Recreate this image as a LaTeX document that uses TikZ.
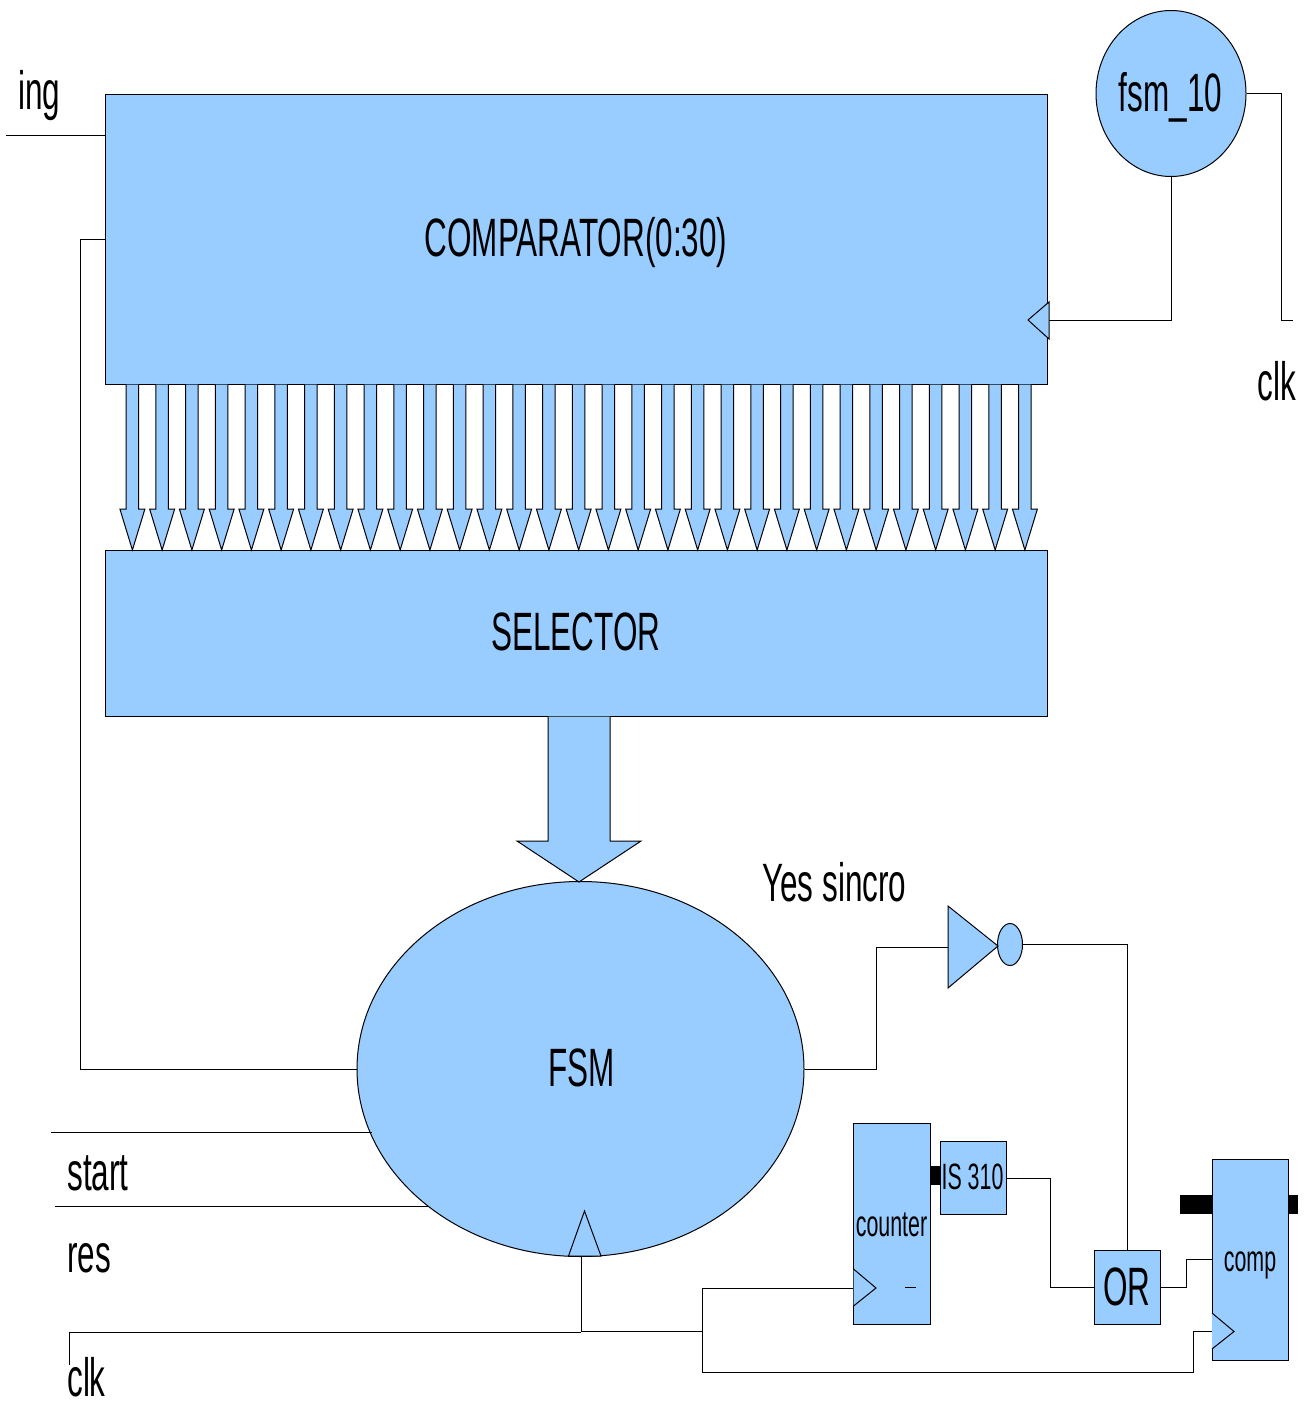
\documentclass[tikz,border=0pt]{standalone}
\usepackage{fontspec}
\setmainfont{Liberation Sans}
\newfontfamily\condfont[FakeStretch=0.583]{Liberation Sans}
\usetikzlibrary{shapes.geometric,calc}
\definecolor{blockblue}{HTML}{99CCFF}
\tikzset{
  wire/.style={draw=black,line width=0.75pt,line join=miter},
  block/.style n args={2}{draw=black,fill=blockblue,line width=0.75pt,inner sep=0pt,rectangle,minimum width=#1*0.75pt,minimum height=#2*0.75pt},
  bubble/.style n args={2}{draw=black,fill=blockblue,line width=0.75pt,inner sep=0pt,ellipse,minimum width=#1*0.75pt,minimum height=#2*0.75pt},
  shape fill/.style={draw=black,fill=blockblue,line width=0.75pt,line join=miter},
  bus/.style={fill=black},
  biglabel/.style={inner sep=0pt,font=\condfont\fontsize{40.5}{44}\selectfont},
  smalllabel/.style={inner sep=0pt,font=\condfont\fontsize{27.5}{30}\selectfont}
}
\begin{document}
\begin{tikzpicture}[x=0.75pt,y=-0.75pt]
\useasboundingbox (0,0) rectangle (1312,1402);

% free ends and bends
\coordinate (ingend) at (6,135.5);
\coordinate (startend) at (51,1132);
\coordinate (startfsm) at (372,1132);
\coordinate (resend) at (55,1206);
\coordinate (resfsm) at (428,1206);
\coordinate (clkend) at (69,1365);
\coordinate (clkturn) at (69,1332);
\coordinate (clkjoin) at (581,1332);
\coordinate (clkright) at (702,1331);
\coordinate (clkouter) at (702,1372);
\coordinate (compclkturn) at (1193,1372);
\coordinate (fsmclk) at (581,1256);
\coordinate (cntclk) at (853.5,1288);
\coordinate (compclk) at (1212,1331.5);
\coordinate (cmpclk) at (1049,320);
\coordinate (topclkend) at (1293,320);
\coordinate (topclkturn) at (1281,320);

% blocks
\node[block={942.5}{290}] (comparator) at (576.25,239.25) {};
\node[block={942.5}{166}] (selector) at (576.25,633.25) {};
\node[bubble={150}{166}] (fsmten) at (1171,93.5) {};
\node[bubble={447}{375}] (fsm) at (580.5,1069) {};
\node[bubble={25}{42}] (invbub) at (1010,944.5) {};
\node[block={76.5}{201}] (counter) at (891.75,1223.5) {};
\node[block={66}{73.5}] (is) at (973.75,1178) {};
\node[block={66}{74}] (orgate) at (1127.5,1287) {};
\node[block={76.5}{200.5}] (comp) at (1250.25,1259.75) {};

% buses
\fill[bus] (930,1166) rectangle (941,1185);
\fill[bus] (1180,1195) rectangle (1212,1214);
\fill[bus] (1288.5,1195) rectangle (1298,1214);

% wires
\draw[wire] (ingend) -- (ingend -| comparator.west);
\draw[wire] (fsm.west) -- (80,1069) |- (comparator.west);
\draw[wire] (fsmten.south) |- (cmpclk);
\draw[wire] (fsmten.east) -- (fsmten.east -| topclkturn) -- (topclkturn) -- (topclkend);
\draw[wire] (startend) -- (startfsm);
\draw[wire] (resend) -- (resfsm);
\draw[wire] (fsm.east) -- (876,1069) |- (948,947);
\draw[wire] (invbub.east) -| (orgate.north);
\draw[wire] (is.east) -- (1050.5,1178) |- (orgate.west);
\draw[wire] (orgate.east) -- (1186,1287) |- (comp.west);
\draw[wire] (clkend) -- (clkturn) -- (clkjoin);
\draw[wire] (fsmclk) -- (clkjoin);
\draw[wire] (581,1331) -- (clkright);
\draw[wire] (clkright) |- (cntclk);
\draw[wire] (clkright) -- (clkouter) -- (compclkturn) |- (compclk);

% clock triangles and inverter
\draw[shape fill] (1049,302) -- (1028,320) -- (1049,339) -- cycle;
\draw[shape fill] (568.5,1256) -- (584.5,1211) -- (601,1256) -- cycle;
\draw[shape fill] (948,906) -- (998,946) -- (948,988) -- cycle;
\draw[shape fill] (853.5,1269) -- (876,1288) -- (853.5,1306);
\draw[shape fill] (1212,1313) -- (1234,1331.5) -- (1212,1349);
\draw[line width=0.75pt] (905,1287.5) -- (916,1287.5);

% bus arrows
\foreach \i in {0,...,30} {
  \pgfmathsetmacro{\tx}{132.4+29.75*\i}
  \draw[shape fill] (\tx-6.3,384.5) -- (\tx-6.3,509) -- (\tx-12.5,509) -- (\tx,550) -- (\tx+12.5,509) -- (\tx+6.3,509) -- (\tx+6.3,384.5);
}
\draw[shape fill] (548,716.5) -- (548,841) -- (517,841) -- (579,882) -- (641,841) -- (610,841) -- (610,716.5);

% labels
\node[biglabel] (lcomp) at (576,242.5) {COMPARATOR(0:30)};
\node[biglabel] (lsel) at (576,632) {SELECTOR};
\node[biglabel] (lfsm) at (581.5,1068) {FSM};
\node[biglabel] (lten) at (1170.5,97.5) {fsm\_10};
\node[biglabel,anchor=base west] (ling) at (18,110) {ing};
\node[biglabel,anchor=base west] (ltopclk) at (1257.5,400) {clk};
\node[biglabel,anchor=base west] (lyes) at (762,901) {Yes sincro};
\node[biglabel,anchor=base west] (lstart) at (67,1190) {start};
\node[biglabel,anchor=base west] (lres) at (67,1272) {res};
\node[biglabel,anchor=base west] (lclk) at (67,1396) {clk};
\node[biglabel] (lor) at (1127,1287) {OR};
\node[smalllabel] (lcounter) at (891.5,1224.5) {counter};
\node[smalllabel] (lis) at (972.5,1177) {IS 310};
\node[smalllabel] (lcompb) at (1250,1265) {comp};
\end{tikzpicture}
\end{document}
